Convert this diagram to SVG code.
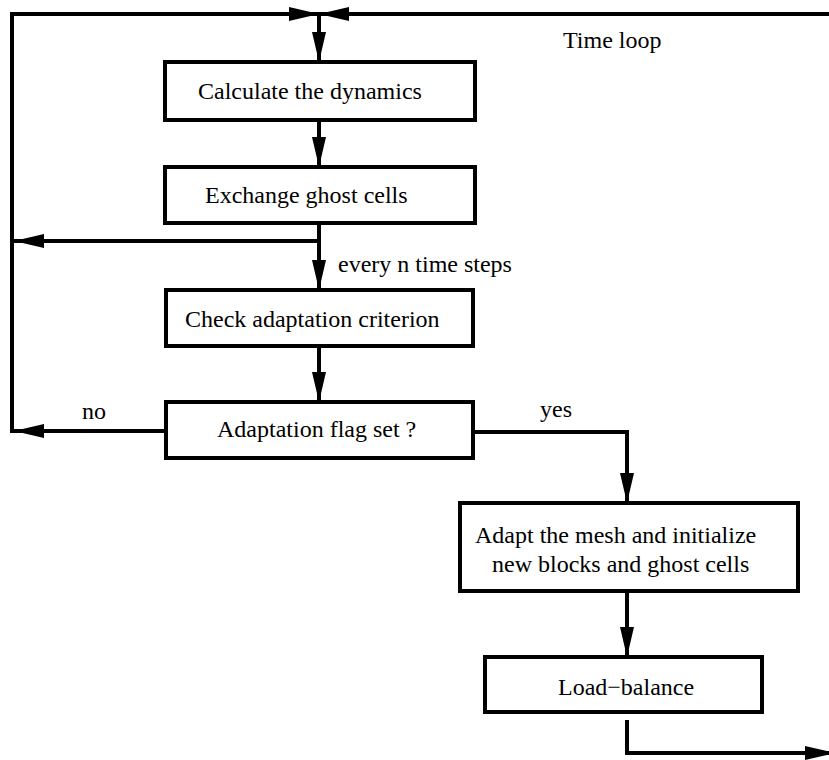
<svg xmlns="http://www.w3.org/2000/svg" width="829" height="760" viewBox="0 0 829 760">
<defs>
<marker id="ah" markerUnits="userSpaceOnUse" markerWidth="32" markerHeight="16" refX="30" refY="8" orient="auto" viewBox="0 0 32 16">
<path d="M0,1 L30,8 L0,15 z" fill="#000"/>
</marker>
</defs>
<rect width="829" height="760" fill="#fff"/>
<g id="connectors" fill="none" stroke="#000" stroke-width="4">
<path d="M12,433 V14 H319" marker-end="url(#ah)"/>
<path d="M829,14 H319" marker-end="url(#ah)"/>
<path d="M319,14 V62" marker-end="url(#ah)"/>
<path d="M319,120 V167" marker-end="url(#ah)"/>
<path d="M319,223 V241 H14" marker-end="url(#ah)"/>
<path d="M319,241 V290" marker-end="url(#ah)"/>
<path d="M319,346 V402" marker-end="url(#ah)"/>
<path d="M166,431 H14" marker-end="url(#ah)"/>
<path d="M473,432 H627 V503" marker-end="url(#ah)"/>
<path d="M627,591 V657" marker-end="url(#ah)"/>
<path d="M627,720 V753 H835" marker-end="url(#ah)"/>
</g>
<g id="labels">
<text x="563" y="48" font-family="Times New Roman, Liberation Serif, serif" font-size="24">Time loop</text>
<text x="338" y="272" font-family="Times New Roman, Liberation Serif, serif" font-size="24">every n time steps</text>
<text x="82" y="419" font-family="Times New Roman, Liberation Serif, serif" font-size="24">no</text>
<text x="540" y="417" font-family="Times New Roman, Liberation Serif, serif" font-size="24">yes</text>
</g>
<g id="n1"><rect x="165" y="62" width="310" height="58" fill="#fff" stroke="#000" stroke-width="4"/><text x="198" y="99" font-family="Times New Roman, Liberation Serif, serif" font-size="24">Calculate the dynamics</text></g>
<g id="n2"><rect x="165" y="167" width="310" height="56" fill="#fff" stroke="#000" stroke-width="4"/><text x="205" y="203" font-family="Times New Roman, Liberation Serif, serif" font-size="24">Exchange ghost cells</text></g>
<g id="n3"><rect x="166" y="290" width="307" height="56" fill="#fff" stroke="#000" stroke-width="4"/><text x="185" y="327" font-family="Times New Roman, Liberation Serif, serif" font-size="24">Check adaptation criterion</text></g>
<g id="n4"><rect x="166" y="402" width="307" height="56" fill="#fff" stroke="#000" stroke-width="4"/><text x="217" y="437" font-family="Times New Roman, Liberation Serif, serif" font-size="24">Adaptation flag set ?</text></g>
<g id="n5"><rect x="460" y="503" width="338" height="88" fill="#fff" stroke="#000" stroke-width="4"/><text x="475" y="543" font-family="Times New Roman, Liberation Serif, serif" font-size="24">Adapt the mesh and initialize</text><text x="492" y="572" font-family="Times New Roman, Liberation Serif, serif" font-size="24">new blocks and ghost cells</text></g>
<g id="n6"><rect x="485" y="657" width="277" height="55" fill="#fff" stroke="#000" stroke-width="4"/><text x="558" y="695" font-family="Times New Roman, Liberation Serif, serif" font-size="24">Load−balance</text></g>
</svg>
